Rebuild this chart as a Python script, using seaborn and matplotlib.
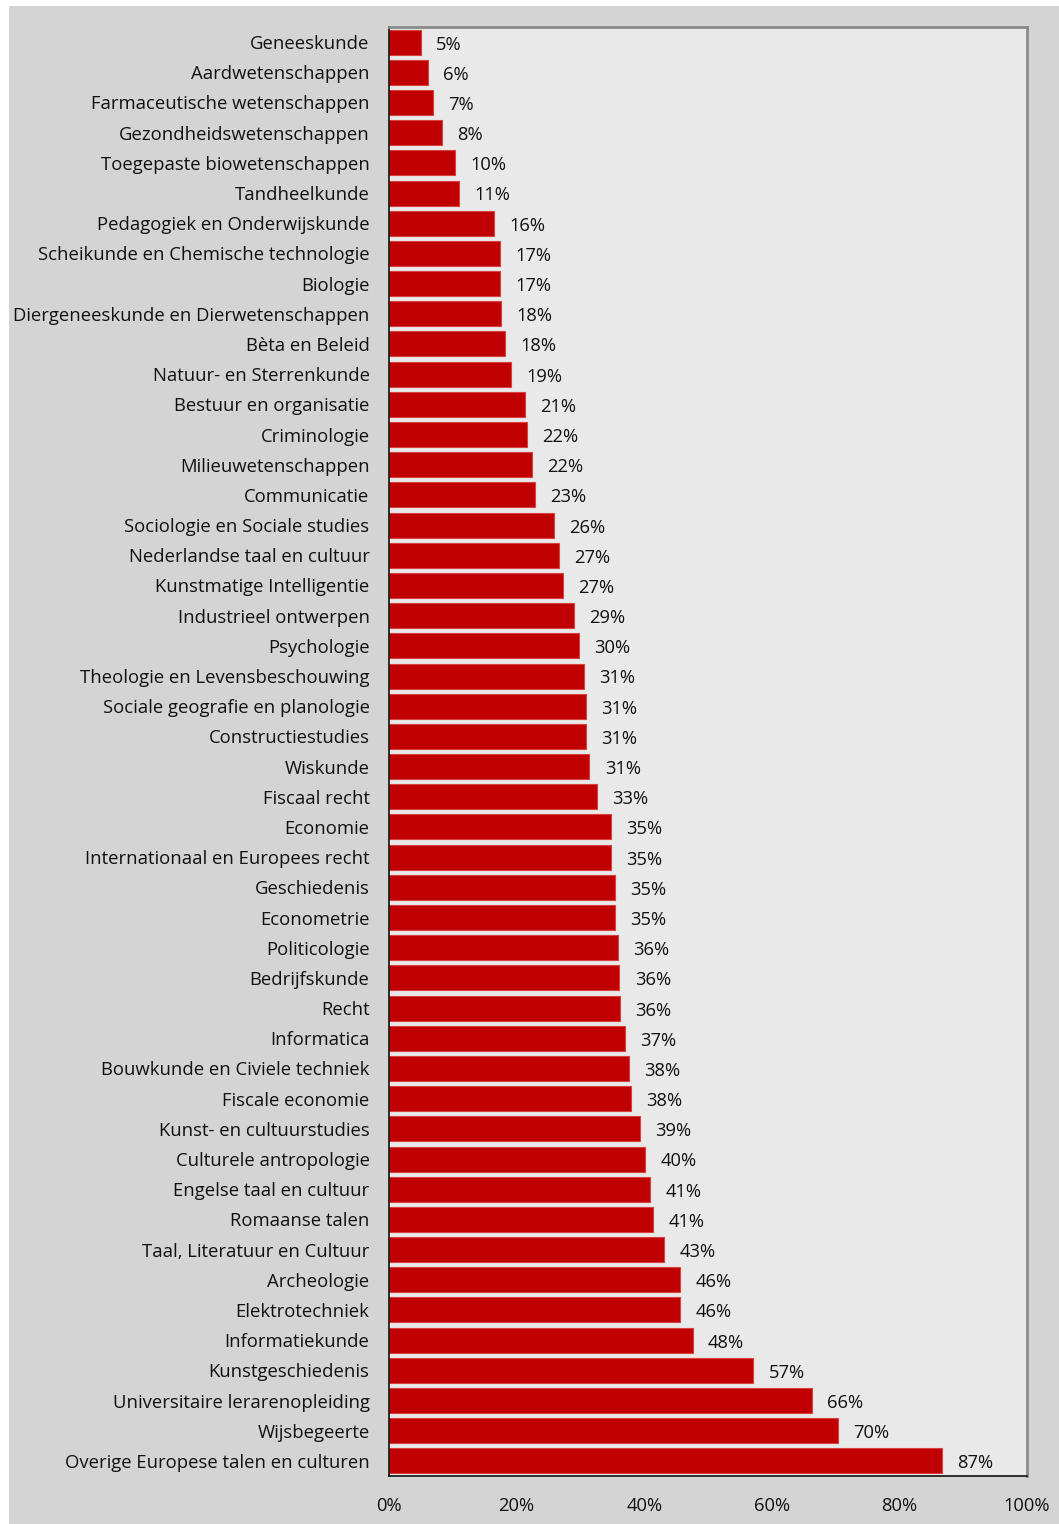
import matplotlib
matplotlib.use("Agg")
import matplotlib.pyplot as plt
import seaborn as sns
import pandas as pd
from matplotlib.patches import Rectangle
from matplotlib.ticker import FuncFormatter

# Data (share in %)
studies = [
    "Geneeskunde", "Aardwetenschappen", "Farmaceutische wetenschappen",
    "Gezondheidswetenschappen", "Toegepaste biowetenschappen", "Tandheelkunde",
    "Pedagogiek en Onderwijskunde", "Scheikunde en Chemische technologie",
    "Biologie", "Diergeneeskunde en Dierwetenschappen", "Bèta en Beleid",
    "Natuur- en Sterrenkunde", "Bestuur en organisatie", "Criminologie",
    "Milieuwetenschappen", "Communicatie", "Sociologie en Sociale studies",
    "Nederlandse taal en cultuur", "Kunstmatige Intelligentie",
    "Industrieel ontwerpen", "Psychologie", "Theologie en Levensbeschouwing",
    "Sociale geografie en planologie", "Constructiestudies", "Wiskunde",
    "Fiscaal recht", "Economie", "Internationaal en Europees recht",
    "Geschiedenis", "Econometrie", "Politicologie", "Bedrijfskunde", "Recht",
    "Informatica", "Bouwkunde en Civiele techniek", "Fiscale economie",
    "Kunst- en cultuurstudies", "Culturele antropologie",
    "Engelse taal en cultuur", "Romaanse talen", "Taal, Literatuur en Cultuur",
    "Archeologie", "Elektrotechniek", "Informatiekunde", "Kunstgeschiedenis",
    "Universitaire lerarenopleiding", "Wijsbegeerte",
    "Overige Europese talen en culturen",
]
shares = [
    5.0, 6.1, 6.9, 8.3, 10.3, 11.0, 16.4, 17.4, 17.4, 17.6, 18.2, 19.1,
    21.3, 21.6, 22.4, 22.9, 25.9, 26.6, 27.3, 29.0, 29.8, 30.6, 30.9, 30.9,
    31.4, 32.6, 34.8, 34.8, 35.4, 35.4, 35.9, 36.1, 36.2, 37.0, 37.6, 37.9,
    39.3, 40.1, 40.9, 41.4, 43.1, 45.6, 45.6, 47.6, 57.1, 66.3, 70.4, 86.6,
]
x_ticks = [0, 20, 40, 60, 80, 100]

df = pd.DataFrame({"Studie": studies, "Aandeel": shares})

sns.set_style("white")
plt.rcParams["font.family"] = ["Open Sans", "DejaVu Sans"]

fig = plt.figure(figsize=(10.59, 15.24), dpi=100, facecolor="white")
# gray chart background with thin white strip top/left
fig.patches.append(Rectangle((9 / 1059, 0), 1, 1 - 6 / 1524,
                             transform=fig.transFigure, facecolor="#d4d4d4",
                             edgecolor="none", zorder=-10))
ax = fig.add_axes([389 / 1059, 1 - 1476 / 1524, 638 / 1059, 1449 / 1524])
ax.set_facecolor("#e9e9e9")

sns.barplot(data=df, x="Aandeel", y="Studie", color="#c00000",
            saturation=1, width=0.83, edgecolor="#d94040", linewidth=0.8,
            ax=ax)

for bar, v in zip(ax.patches, shares):
    ax.text(bar.get_width() + 2.4, bar.get_y() + bar.get_height() / 2 + 0.08,
            f"{round(v)}%", va="center", ha="left", fontsize=13.2,
            color="#111111")

ax.set_xlim(0, 100)
ax.set_ylim(len(studies) - 0.5, -0.5)
ax.set_xticks(x_ticks)
ax.xaxis.set_major_formatter(FuncFormatter(lambda v, p: f"{v:.0f}%"))
ax.set_xlabel("")
ax.set_ylabel("")
ax.tick_params(axis="x", length=6, width=1, color="#222222",
               labelsize=13.2, pad=9, labelcolor="#111111")
ax.tick_params(axis="y", length=0, labelsize=13.3, pad=14,
               labelcolor="#111111")

for side in ["left", "bottom"]:
    ax.spines[side].set_color("#111111")
    ax.spines[side].set_linewidth(1.2)
for side in ["top", "right"]:
    ax.spines[side].set_visible(True)
    ax.spines[side].set_color("#8a8a8a")
    ax.spines[side].set_linewidth(2)

fig.savefig("out.png", dpi=100, facecolor=fig.get_facecolor())
